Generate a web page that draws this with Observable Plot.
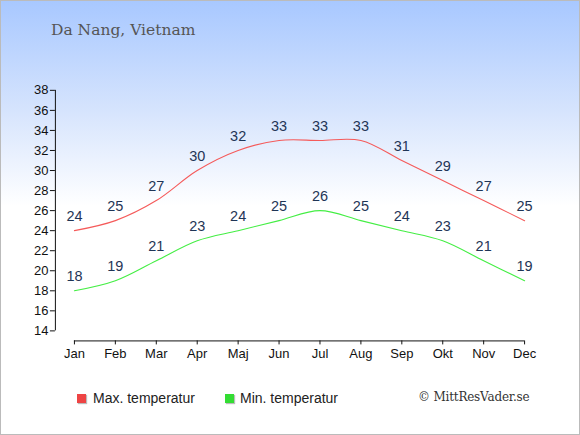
<!DOCTYPE html>
<html><head><meta charset="utf-8">
<script src="https://cdn.jsdelivr.net/npm/d3@7"></script>
<script src="https://cdn.jsdelivr.net/npm/@observablehq/plot@0.6"></script>
<style>
html,body{margin:0;padding:0;}
#wrap{position:relative;width:580px;height:435px;box-sizing:border-box;border:1px solid #bbb;
background:linear-gradient(to bottom,#a8c8ff 0px,#d6e4fd 110px,#ffffff 205px,#ffffff 435px);overflow:hidden;}
#chart{position:absolute;left:-1px;top:-1px;}
#title{position:absolute;left:50px;top:20px;font-family:"DejaVu Serif",serif;font-size:15.5px;color:#555;}
.leg{position:absolute;top:389px;font-family:"Liberation Sans",Arial,sans-serif;font-size:14px;color:#222;}
.sw{position:absolute;top:393px;width:9px;height:9px;box-shadow:1px 1px 1px #bbb;}
#copy{position:absolute;left:417px;top:389px;font-family:"DejaVu Serif",serif;font-size:12px;color:#333;letter-spacing:-0.2px;}
</style></head>
<body><div id="wrap">
<div id="chart"></div>
<div id="title">Da Nang, Vietnam</div>
<div class="sw" style="left:76px;background:#ee4444"></div>
<div class="leg" style="left:92px">Max. temperatur</div>
<div class="sw" style="left:224px;background:#33dd33"></div>
<div class="leg" style="left:239px">Min. temperatur</div>
<div id="copy">© MittResVader.se</div>
</div>
<script>
const months = ["Jan","Feb","Mar","Apr","Maj","Jun","Jul","Aug","Sep","Okt","Nov","Dec"];
const maxTemp = [24,25,27,30,32,33,33,33,31,29,27,25];
const minTemp = [18,19,21,23,24,25,26,25,24,23,21,19];
const yTicks = [14,16,18,20,22,24,26,28,30,32,34,36,38];

const maxData = months.map((m,i)=>({i, v:maxTemp[i]}));
const minData = months.map((m,i)=>({i, v:minTemp[i]}));
const idx = months.map((m,i)=>i);

const chart = Plot.plot({
  width:580, height:380,
  marginLeft:55, marginRight:55, marginTop:90, marginBottom:39,
  style:{background:"transparent", fontFamily:"'Liberation Sans', Arial, sans-serif", fontSize:"13px", color:"#111"},
  x:{type:"linear", domain:[-0.465, 11], label:null},
  y:{domain:[13,38], label:null},
  marks:[
    Plot.ruleX([-0.465], {y1:14, y2:38, stroke:"#111"}),
    Plot.ruleY([13], {x1:0, x2:11, stroke:"#111"}),
    Plot.axisY(yTicks, {anchor:"left", tickSize:5, tickPadding:2, stroke:"#111", fill:"#111", label:null}),
    Plot.axisX(idx, {anchor:"bottom", tickSize:4, tickPadding:4, tickFormat:i=>months[i], stroke:"#111", fill:"#111", label:null}),
    Plot.line(maxData, {x:"i", y:"v", curve:"catmull-rom", stroke:"#f55a5a", strokeWidth:1.1}),
    Plot.line(minData, {x:"i", y:"v", curve:"catmull-rom", stroke:"#44ee44", strokeWidth:1.1}),
    Plot.text(maxData, {x:"i", y:"v", text:"v", dy:-14, fontSize:14.5, fill:"#1f3556"}),
    Plot.text(minData, {x:"i", y:"v", text:"v", dy:-14, fontSize:14.5, fill:"#1f3556"})
  ]
});
document.getElementById("chart").appendChild(chart);
</script>
</body></html>
